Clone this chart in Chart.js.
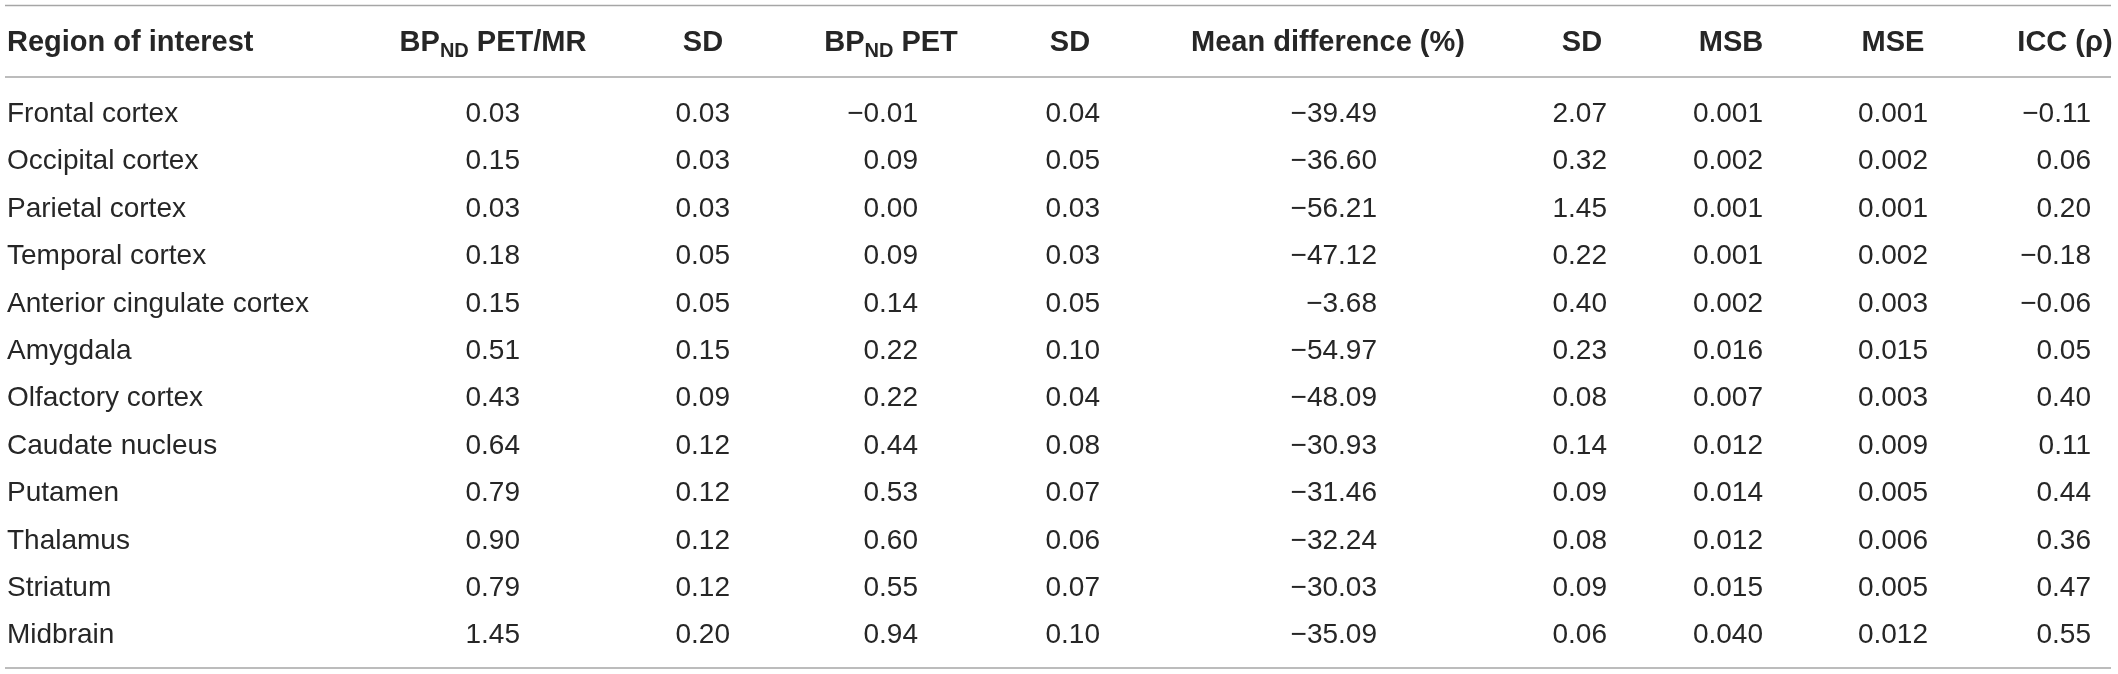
<!DOCTYPE html>
<html lang="en">
<head>
  <meta charset="UTF-8" />
  <title>BPND PET/MR vs PET by region</title>
  <script src="https://cdn.jsdelivr.net/npm/chart.js"></script>
  <style>
    html, body { margin: 0; padding: 0; background: #fff; }
    #table { display: block; }
  </style>
</head>
<body>
<canvas id="table" width="2118" height="674"></canvas>

<script>
  // table data
  const regions = ['Frontal cortex', 'Occipital cortex', 'Parietal cortex', 'Temporal cortex',
    'Anterior cingulate cortex', 'Amygdala', 'Olfactory cortex', 'Caudate nucleus',
    'Putamen', 'Thalamus', 'Striatum', 'Midbrain'];
  const columnHeaders = ['Region of interest', 'BP_ND PET/MR', 'SD', 'BP_ND PET', 'SD',
    'Mean difference (%)', 'SD', 'MSB', 'MSE', 'ICC (ρ)'];

  const bpPetMr  = [0.03, 0.15, 0.03, 0.18, 0.15, 0.51, 0.43, 0.64, 0.79, 0.90, 0.79, 1.45];
  const sdPetMr  = [0.03, 0.03, 0.03, 0.05, 0.05, 0.15, 0.09, 0.12, 0.12, 0.12, 0.12, 0.20];
  const bpPet    = [-0.01, 0.09, 0.00, 0.09, 0.14, 0.22, 0.22, 0.44, 0.53, 0.60, 0.55, 0.94];
  const sdPet    = [0.04, 0.05, 0.03, 0.03, 0.05, 0.10, 0.04, 0.08, 0.07, 0.06, 0.07, 0.10];
  const meanDiff = [-39.49, -36.60, -56.21, -47.12, -3.68, -54.97, -48.09, -30.93, -31.46, -32.24, -30.03, -35.09];
  const sdDiff   = [2.07, 0.32, 1.45, 0.22, 0.40, 0.23, 0.08, 0.14, 0.09, 0.08, 0.09, 0.06];
  const msb      = [0.001, 0.002, 0.001, 0.001, 0.002, 0.016, 0.007, 0.012, 0.014, 0.012, 0.015, 0.040];
  const mse      = [0.001, 0.002, 0.001, 0.002, 0.003, 0.015, 0.003, 0.009, 0.005, 0.006, 0.005, 0.012];
  const icc      = [-0.11, 0.06, 0.20, -0.18, -0.06, 0.05, 0.40, 0.11, 0.44, 0.36, 0.47, 0.55];

  const valueColumns = [bpPetMr, sdPetMr, bpPet, sdPet, meanDiff, sdDiff, msb, mse, icc];
  const decimals     = [2, 2, 2, 2, 2, 2, 3, 3, 2];

  // layout (x in pixels on a 0..2118 axis, y in row units: row 0 = first region)
  const layout = {
    textLeft: 7,
    valueRight:   [520, 730, 918, 1100, 1377, 1607, 1763, 1928, 2091],
    headerCenter: [493, 703, 891, 1070, 1328, 1582, 1731, 1893, 2065],
    headerRow: -1.5,
    rules: [-2.458, -0.949, 11.52],
    ruleLeft: 5,
    ruleRight: 2111,
    bodyFont: '28px "Liberation Sans", Arial, sans-serif',
    headFont: 'bold 29px "Liberation Sans", Arial, sans-serif',
    subFont: 'bold 20px "Liberation Sans", Arial, sans-serif',
    textColor: '#262626',
    ruleColor: '#a6a6a6'
  };

  const fmt = (v, d) => v.toFixed(d).replace('-', '\u2212');

  const datasets = [{
    label: columnHeaders[0],
    data: regions.map((r, i) => ({ x: layout.textLeft, y: i })),
    texts: regions,
    align: 'left'
  }].concat(valueColumns.map((col, c) => ({
    label: columnHeaders[c + 1],
    data: col.map((v, i) => ({ x: layout.valueRight[c], y: i })),
    texts: col.map(v => fmt(v, decimals[c])),
    align: 'right'
  })));
  datasets.forEach(ds => { ds.pointRadius = 0; ds.pointHoverRadius = 0; });

  function drawHeader(ctx, text, px, py, align) {
    // "_ND" marks a subscript
    const parts = text.split(/_(ND)/);
    const pieces = parts.map((p, i) => ({ t: p, sub: i % 2 === 1 }));
    let width = 0;
    pieces.forEach(p => {
      ctx.font = p.sub ? layout.subFont : layout.headFont;
      p.w = ctx.measureText(p.t).width;
      width += p.w;
    });
    let cx = align === 'left' ? px : px - width / 2;
    ctx.textAlign = 'left';
    pieces.forEach(p => {
      ctx.font = p.sub ? layout.subFont : layout.headFont;
      ctx.fillText(p.t, cx, p.sub ? py + 6 : py);
      cx += p.w;
    });
  }

  const tablePlugin = {
    id: 'tableText',
    afterDatasetsDraw(chart) {
      const { ctx, scales: { x, y } } = chart;
      ctx.save();

      ctx.strokeStyle = layout.ruleColor;
      ctx.lineWidth = 1.5;
      layout.rules.forEach(r => {
        const py = y.getPixelForValue(r);
        ctx.beginPath();
        ctx.moveTo(x.getPixelForValue(layout.ruleLeft), py);
        ctx.lineTo(x.getPixelForValue(layout.ruleRight), py);
        ctx.stroke();
      });

      ctx.fillStyle = layout.textColor;
      ctx.textBaseline = 'alphabetic';
      const hy = y.getPixelForValue(layout.headerRow);
      drawHeader(ctx, columnHeaders[0], x.getPixelForValue(layout.textLeft), hy, 'left');
      layout.headerCenter.forEach((hx, c) => {
        drawHeader(ctx, columnHeaders[c + 1], x.getPixelForValue(hx), hy, 'center');
      });

      ctx.font = layout.bodyFont;
      chart.data.datasets.forEach((ds, di) => {
        ctx.textAlign = ds.align;
        chart.getDatasetMeta(di).data.forEach((pt, j) => {
          ctx.fillText(ds.texts[j], pt.x, pt.y);
        });
      });
      ctx.restore();
    }
  };

  new Chart(document.getElementById('table'), {
    type: 'scatter',
    data: { datasets },
    options: {
      responsive: false,
      animation: false,
      devicePixelRatio: 1,
      layout: { padding: 0 },
      events: [],
      plugins: { legend: { display: false }, tooltip: { enabled: false } },
      scales: {
        x: { type: 'linear', display: false, min: 0, max: 2118 },
        y: { type: 'linear', display: false, reverse: true, min: -122 / 47.4, max: (674 - 122) / 47.4 }
      }
    },
    plugins: [tablePlugin]
  });
</script>
</body>
</html>
